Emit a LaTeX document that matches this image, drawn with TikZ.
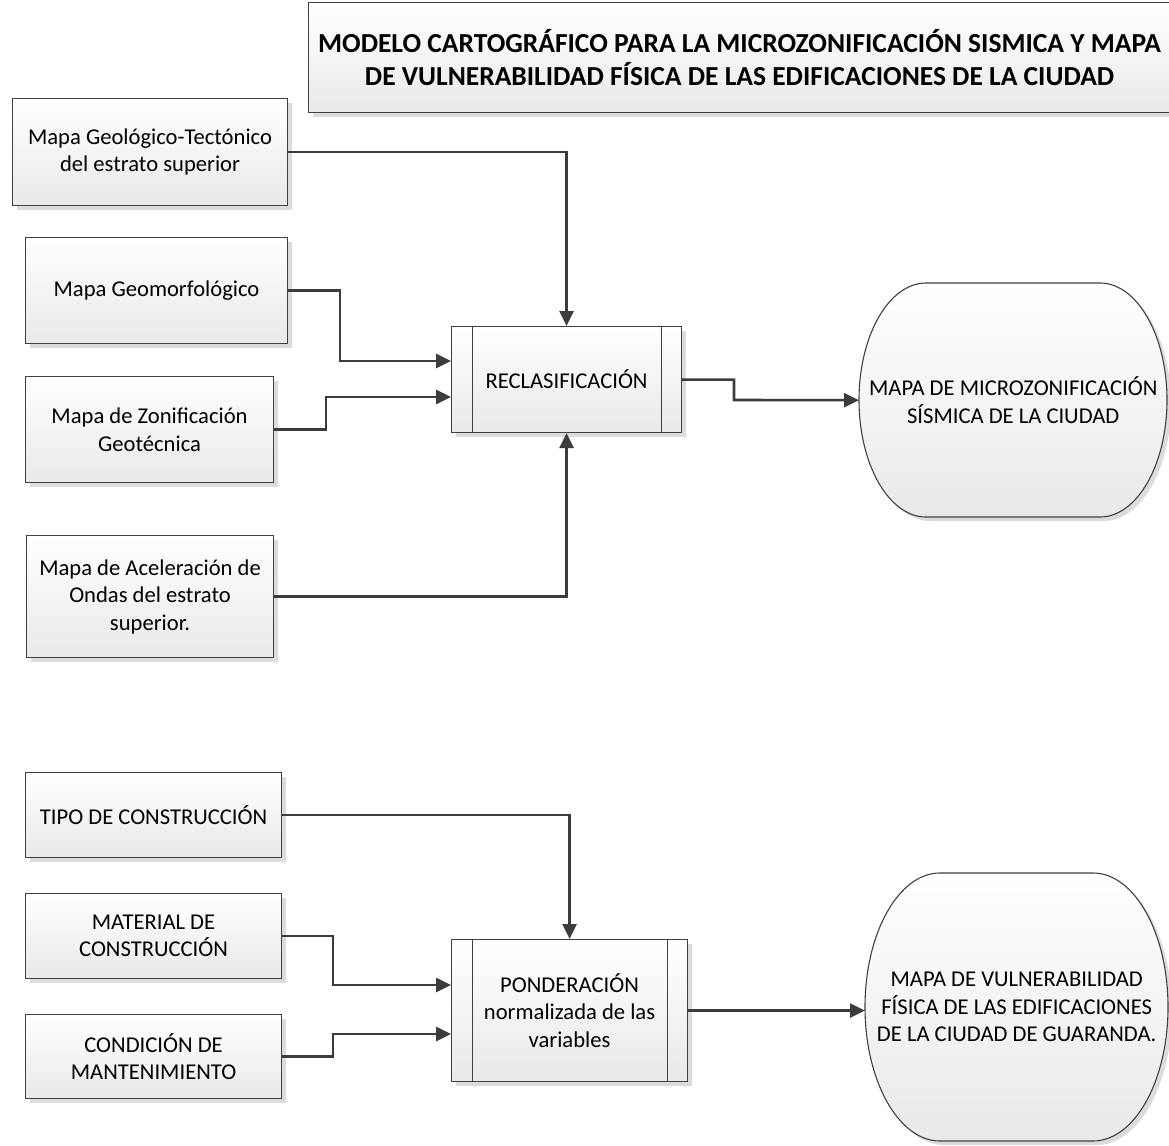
\documentclass[tikz,border=0pt]{standalone}
\usepackage{fontspec}
\setmainfont{Carlito}
\usetikzlibrary{arrows.meta,shadows,calc}
\definecolor{edge}{HTML}{404040}
\definecolor{conn}{HTML}{3C3C3C}
\definecolor{fillbot}{HTML}{E9E9E9}
\definecolor{shade}{HTML}{DCDCDC}
\tikzset{
  boxshadow/.style={drop shadow={shadow xshift=4pt,shadow yshift=-4pt,fill=shade,opacity=1}},
  inbox/.style={draw=edge,line width=1.1pt,top color=white,bottom color=fillbot,boxshadow,
    anchor=north west,align=center,inner sep=0pt,font=\fontsize{22.6}{27.5}\selectfont},
  titlebox/.style={inbox,font=\bfseries\fontsize{27.5}{32.5}\selectfont},
  procline/.style={draw=edge,line width=1pt},
  stadium/.style={draw=edge,line width=1.1pt,top color=white,bottom color=fillbot,boxshadow},
  label/.style={align=center,inner sep=0pt,font=\fontsize{22.6}{27.5}\selectfont},
  arr/.style={draw=conn,line width=2.6pt,-{Triangle[length=15pt,width=14pt]}},
}
\begin{document}
\begin{tikzpicture}[x=1pt,y=-1pt]
\clip (0,0) rectangle (1169,1145);
\fill[white] (0,0) rectangle (1169,1145);

% title
\node[titlebox,minimum width=862pt,minimum height=110pt] (title) at (308,2)
 {MODELO CARTOGRÁFICO PARA LA MICROZONIFICACIÓN SISMICA Y MAPA\\DE VULNERABILIDAD FÍSICA DE LAS EDIFICACIONES DE LA CIUDAD};

% top group inputs
\node[inbox,minimum width=275pt,minimum height=107pt] (g1) at (12,98) {Mapa Geológico-Tectónico\\del estrato superior};
\node[inbox,minimum width=262pt,minimum height=106pt] (g2) at (25,237) {Mapa Geomorfológico};
\node[inbox,minimum width=248pt,minimum height=106pt] (g3) at (25,376) {Mapa de Zonificación\\Geotécnica};
\node[inbox,minimum width=247pt,minimum height=122pt] (g4) at (26,535) {Mapa de Aceleración de\\Ondas del estrato\\superior.};

% process 1
\node[inbox,minimum width=230pt,minimum height=106pt] (rec) at (451,326) {RECLASIFICACIÓN};
\draw[procline] ([xshift=21pt]rec.north west) -- ([xshift=21pt]rec.south west);
\draw[procline] ([xshift=-21pt]rec.north east) -- ([xshift=-21pt]rec.south east);

% output 1
\path[stadium] (926,283) -- (1100,283) arc[start angle=-90,end angle=90,x radius=67,y radius=117]
  -- (926,517) arc[start angle=90,end angle=270,x radius=67,y radius=117] -- cycle;
\node[label,minimum width=308pt,minimum height=234pt,anchor=north west] (e1) at (859,283)
 {MAPA DE MICROZONIFICACIÓN\\SÍSMICA DE LA CIUDAD};

% bottom group inputs
\node[inbox,minimum width=256pt,minimum height=85pt] (t1) at (25,772) {TIPO DE CONSTRUCCIÓN};
\node[inbox,minimum width=256pt,minimum height=85pt] (t2) at (25,893) {MATERIAL DE\\CONSTRUCCIÓN};
\node[inbox,minimum width=256pt,minimum height=84pt] (t3) at (25,1014) {CONDICIÓN DE\\MANTENIMIENTO};

% process 2
\node[inbox,minimum width=236pt,minimum height=142pt] (pon) at (451,939) {PONDERACIÓN\\normalizada de las\\variables};
\draw[procline] ([xshift=21pt]pon.north west) -- ([xshift=21pt]pon.south west);
\draw[procline] ([xshift=-21pt]pon.north east) -- ([xshift=-21pt]pon.south east);

% output 2
\path[stadium] (940,873) -- (1093,873) arc[start angle=-90,end angle=90,x radius=75,y radius=134]
  -- (940,1141) arc[start angle=90,end angle=270,x radius=75,y radius=134] -- cycle;
\node[label,minimum width=303pt,minimum height=268pt,anchor=north west] (e2) at (865,873)
 {MAPA DE VULNERABILIDAD\\FÍSICA DE LAS EDIFICACIONES\\DE LA CIUDAD DE GUARANDA.};

% entry points
\coordinate (rin1) at (451,361);
\coordinate (rin2) at (451,397);
\coordinate (pin1) at (451,985);
\coordinate (pin2) at (451,1034);

% connectors top
\draw[arr] (g1.east) -| (rec.north);
\draw[arr] (g2.east) -| (340,361) -- (rin1);
\draw[arr] (g3.east) -| (326,397) -- (rin2);
\draw[arr] (g4.east) -| (rec.south);
\draw[arr] (rec.east) -| (734,400) -- (e1.west);

% connectors bottom
\draw[arr] (t1.east) -| (pon.north);
\draw[arr] (t2.east) -| (333,985) -- (pin1);
\draw[arr] (t3.east) -| (333,1034) -- (pin2);
\draw[arr] (pon.east) -- (pon.east -| e2.west);
\end{tikzpicture}
\end{document}
